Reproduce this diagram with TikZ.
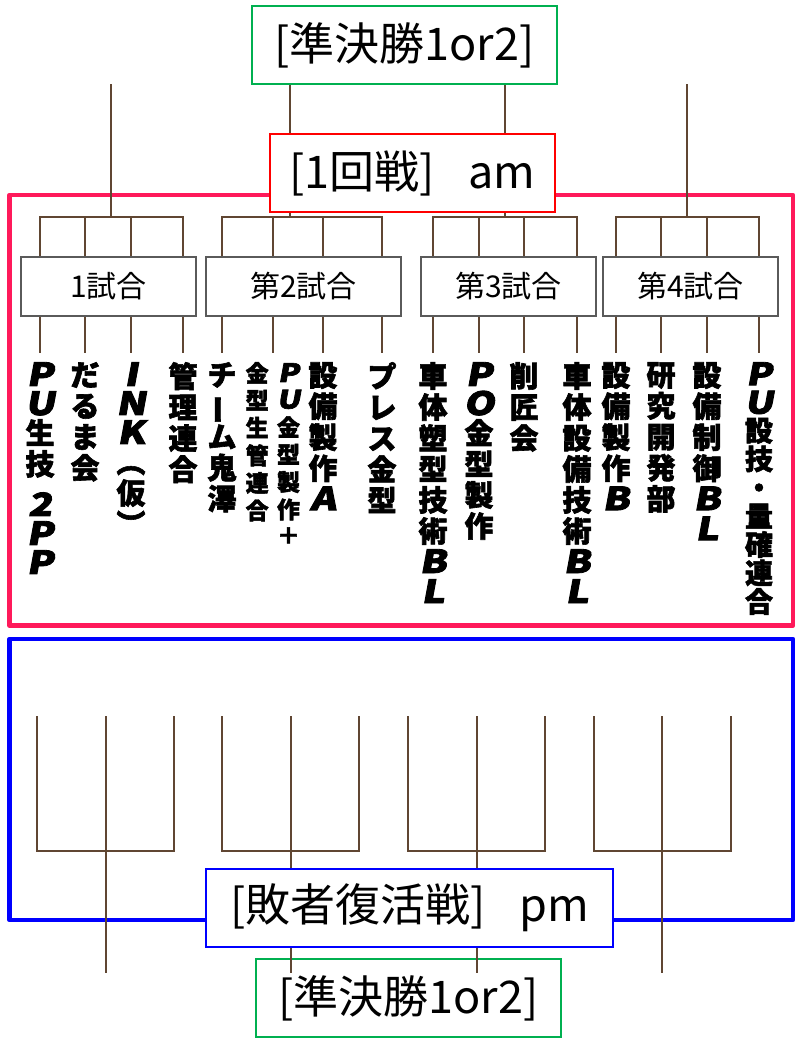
\documentclass[tikz,border=0pt]{standalone}
\usepackage{fontspec}
\newfontfamily\jp{Noto Sans CJK JP}
\newfontfamily\pop{Noto Sans CJK JP}[BoldFeatures={FakeBold=2}]
\newfontfamily\popi{Noto Sans CJK JP}[FakeSlant=0.15,BoldFeatures={FakeBold=2.5}]
\newcommand\LL[1]{\scalebox{1.35}[1.1]{\popi\bfseries #1}}
\newcommand\vbar{\rotatebox[origin=c]{90}{ー}}
\definecolor{brn}{RGB}{96,70,50}
\definecolor{grn}{RGB}{0,176,80}
\definecolor{pinkfr}{RGB}{255,25,90}
\definecolor{boxgray}{RGB}{90,90,90}
\definecolor{redbox}{RGB}{255,0,0}
\definecolor{bluefr}{RGB}{0,0,255}
\begin{document}
\begin{tikzpicture}[x=1pt,y=-1pt,
  br/.style={draw=brn,line width=1.4pt},
  bigbox/.style={fill=white,line width=1.5pt,minimum height=78pt,inner sep=0pt,font=\jp\fontsize{45}{48}\selectfont},
  matchbox/.style={draw=boxgray,fill=white,line width=1.3pt,minimum height=59pt,inner sep=0pt,font=\jp\fontsize{30}{32}\selectfont},
  nm/.style={anchor=north,inner sep=0pt,align=center,font=\pop\bfseries\fontsize{29}{31}\selectfont},
  frame/.style={line width=4.5pt,line join=round}]
\useasboundingbox (0,0) rectangle (797,1039);
% frames
\draw[frame,draw=pinkfr] (9.5,195) rectangle (793,625.5);
\draw[frame,draw=bluefr] (9.5,639) rectangle (793,920);
% boxes
\node[bigbox,draw=grn,minimum width=305pt] (semiT) at (404.5,45) {[準決勝1or2]};
\node[bigbox,draw=redbox,minimum width=285pt] (r1) at (412.5,173) {[1回戦]\hspace{0.75em}am};
\node[bigbox,draw=bluefr,minimum width=407pt] (loser) at (409.5,908) {[敗者復活戦]\hspace{0.75em}pm};
\node[bigbox,draw=grn,minimum width=305pt] (semiB) at (408.5,998) {[準決勝1or2]};
\node[matchbox,minimum width=175pt] (m1) at (108.5,286.5) {1試合};
\node[matchbox,minimum width=195pt] (m2) at (303.5,286.5) {第2試合};
\node[matchbox,minimum width=175pt] (m3) at (508.5,286.5) {第3試合};
\node[matchbox,minimum width=175pt] (m4) at (690.5,286.5) {第4試合};
% team names
\node[nm] (n1) at (40,362) {\LL{P}\\[-2pt]\LL{U}\\[-2pt]生\\技\\[10pt]\LL{2}\\[-2pt]\LL{P}\\[-2pt]\LL{P}};
\node[nm] (n2) at (85,362) {だ\\る\\ま\\会};
\node[nm] (n3) at (131,362) {\LL{I}\\[-2pt]\LL{N}\\[-2pt]\LL{K}\\[-2pt]︵\\仮\\︶};
\node[nm] (n4) at (183,362) {管\\理\\連\\合};
\node[nm] (n5) at (222,362) {チ\\\vbar\\ム\\鬼\\澤};
\node[anchor=north,inner sep=0pt,font=\pop\bfseries\fontsize{23}{26}\selectfont] (n6) at (273,362)
  {\begin{tabular}[t]{@{}c@{}}金\\型\\生\\管\\連\\合\end{tabular}\hspace{8pt}\begin{tabular}[t]{@{}c@{}}\LL{P}\\\LL{U}\\金\\型\\製\\作\\＋\end{tabular}};
\node[nm] (n7) at (323,362) {設\\備\\製\\作\\\LL{A}};
\node[nm] (n8) at (382,362) {プ\\レ\\ス\\金\\型};
\node[nm] (n9) at (433,362) {車\\体\\塑\\型\\技\\術\\\LL{B}\\[-1pt]\LL{L}};
\node[nm] (n10) at (479,362) {\LL{P}\\[-2pt]\LL{O}\\[-2pt]金\\型\\製\\作};
\node[nm] (n11) at (524,362) {削\\匠\\会};
\node[nm] (n12) at (577,362) {車\\体\\設\\備\\技\\術\\\LL{B}\\[-1pt]\LL{L}};
\node[nm] (n13) at (616,362) {設\\備\\製\\作\\\LL{B}};
\node[nm] (n14) at (661,362) {研\\究\\開\\発\\部};
\node[nm] (n15) at (707,362) {設\\備\\制\\御\\\LL{B}\\[-1pt]\LL{L}};
\node[nm,font=\pop\bfseries\fontsize{28}{28.5}\selectfont] (n16) at (759,362) {\LL{P}\\\LL{U}\\[-1pt]設\\技\\・\\量\\確\\連\\合};
% stubs from match boxes to names
\foreach \m/\n in {m1/n1,m1/n2,m1/n3,m1/n4,m2/n5,m2/n6,m2/n7,m2/n8,m3/n9,m3/n10,m3/n11,m3/n12,m4/n13,m4/n14,m4/n15,m4/n16}
  \draw[br] (\m.south -| \n.north) -- ([yshift=9pt]\n.north);
% top brackets
\coordinate (b1) at (111,217);
\coordinate (b2) at (290,217);
\coordinate (b3) at (505,217);
\coordinate (b4) at (687,217);
\coordinate (top1) at (111,84);
\coordinate (top4) at (687,84);
\foreach \m/\b/\a/\p/\q/\z in {m1/b1/n1/n2/n3/n4,m2/b2/n5/n6/n7/n8,m3/b3/n9/n10/n11/n12,m4/b4/n13/n14/n15/n16}{
  \draw[br] (\m.north -| \a.north) |- (\b) -| (\m.north -| \z.north);
  \draw[br] (\m.north -| \p.north) -- (\b -| \p.north);
  \draw[br] (\m.north -| \q.north) -- (\b -| \q.north);
}
\draw[br] (b1) -- (top1);
\draw[br] (b4) -- (top4);
\draw[br] (b2) -- (b2 |- r1.south);
\draw[br] (b3) -- (b3 |- r1.south);
\draw[br] (r1.north -| b2) -- (semiT.south -| b2);
\draw[br] (r1.north -| b3) -- (semiT.south -| b3);
% bottom brackets
\foreach \l/\c/\r/\k in {37/106/174/A,222/291/359/B,408/477/545/C,594/662/731/D}{
  \coordinate (L\k) at (\l,716);
  \coordinate (C\k) at (\c,716);
  \coordinate (R\k) at (\r,716);
  \coordinate (J\k) at (\c,851);
  \coordinate (E\k) at (\c,973);
  \draw[br] (L\k) |- (J\k) -| (R\k);
}
\draw[br] (CA) -- (EA);
\draw[br] (CD) -- (ED);
\draw[br] (CB) -- (CB |- loser.north);
\draw[br] (CC) -- (CC |- loser.north);
\draw[br] (loser.south -| EB) -- (EB);
\draw[br] (loser.south -| EC) -- (EC);
\end{tikzpicture}
\end{document}
